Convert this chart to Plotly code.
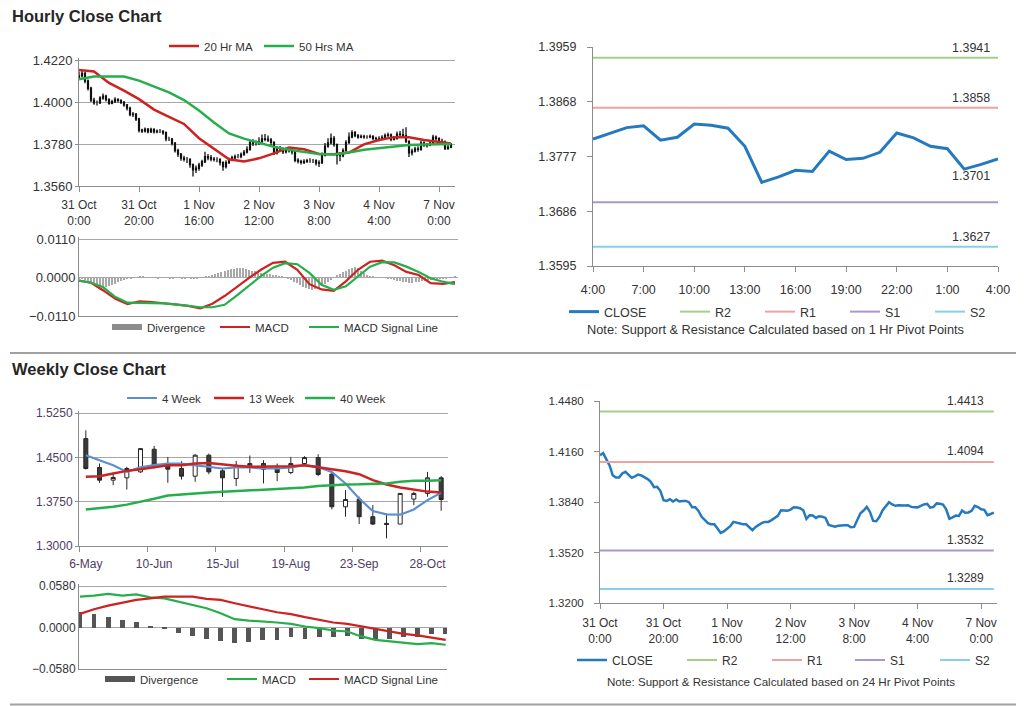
import plotly.graph_objects as go

# The page body keeps the browser's default 8px margin, so the figure is placed at (8, 8)
# and sized to end exactly at the window edge. Positions below are in window pixels.
OX, OY = 8, 8
FW, FH = 1024 - OX, 706 - OY
FONT = "Liberation Sans, Arial, sans-serif"
TXT = "#333333"
WK_TXT = "#4F3B66"
GRID = "#A6A6A6"
AXIS = "#8C8C8C"

# ---------------- Hourly data: 31 Oct 0:00 -> 7 Nov 4:00 (125 bars) ----------------
h_open = [1.4125, 1.4137, 1.4150, 1.4110, 1.4072, 1.4010, 1.3995, 1.3995, 1.4021, 1.4031,
          1.4012, 1.3993, 1.4002, 1.4014, 1.4008, 1.3998, 1.3985, 1.3968, 1.3934, 1.3936,
          1.3911, 1.3852, 1.3847, 1.3858, 1.3843, 1.3856, 1.3843, 1.3847, 1.3847, 1.3839,
          1.3807, 1.3807, 1.3784, 1.3746, 1.3727, 1.3706, 1.3699, 1.3699, 1.3672, 1.3644,
          1.3653, 1.3670, 1.3687, 1.3714, 1.3708, 1.3701, 1.3699, 1.3699, 1.3682, 1.3661,
          1.3682, 1.3697, 1.3708, 1.3714, 1.3714, 1.3725, 1.3737, 1.3752, 1.3788, 1.3784,
          1.3784, 1.3792, 1.3807, 1.3805, 1.3801, 1.3788, 1.3733, 1.3756, 1.3754, 1.3739,
          1.3750, 1.3746, 1.3739, 1.3695, 1.3689, 1.3684, 1.3689, 1.3693, 1.3693, 1.3693,
          1.3680, 1.3682, 1.3722, 1.3769, 1.3786, 1.3809, 1.3777, 1.3720, 1.3718, 1.3746,
          1.3788, 1.3816, 1.3839, 1.3824, 1.3816, 1.3820, 1.3818, 1.3818, 1.3820, 1.3809,
          1.3807, 1.3806, 1.3815, 1.3825, 1.3828, 1.3804, 1.3809, 1.3831, 1.3829, 1.3824,
          1.3794, 1.3734, 1.3743, 1.3754, 1.3752, 1.3786, 1.3772, 1.3774, 1.3784, 1.3816,
          1.3808, 1.3794, 1.3790, 1.3756, 1.3764]
h_high = [1.4160, 1.4165, 1.4158, 1.4118, 1.4080, 1.4022, 1.4008, 1.4030, 1.4045, 1.4038,
          1.4020, 1.4012, 1.4025, 1.4020, 1.4015, 1.4005, 1.3990, 1.3975, 1.3948, 1.3942,
          1.3918, 1.3860, 1.3866, 1.3864, 1.3865, 1.3862, 1.3856, 1.3858, 1.3852, 1.3845,
          1.3818, 1.3812, 1.3790, 1.3755, 1.3733, 1.3718, 1.3712, 1.3705, 1.3678, 1.3668,
          1.3682, 1.3698, 1.3740, 1.3728, 1.3722, 1.3712, 1.3710, 1.3706, 1.3690, 1.3695,
          1.3708, 1.3718, 1.3725, 1.3728, 1.3735, 1.3748, 1.3768, 1.3800, 1.3805, 1.3798,
          1.3815, 1.3830, 1.3832, 1.3825, 1.3812, 1.3795, 1.3768, 1.3770, 1.3762, 1.3760,
          1.3758, 1.3752, 1.3745, 1.3705, 1.3698, 1.3700, 1.3703, 1.3705, 1.3702, 1.3700,
          1.3695, 1.3735, 1.3785, 1.3810, 1.3835, 1.3822, 1.3782, 1.3738, 1.3758, 1.3800,
          1.3840, 1.3852, 1.3848, 1.3832, 1.3830, 1.3828, 1.3826, 1.3830, 1.3826, 1.3818,
          1.3820, 1.3826, 1.3835, 1.3840, 1.3835, 1.3822, 1.3845, 1.3848, 1.3860, 1.3868,
          1.3800, 1.3755, 1.3765, 1.3768, 1.3798, 1.3795, 1.3785, 1.3798, 1.3828, 1.3825,
          1.3815, 1.3808, 1.3798, 1.3775, 1.3785]
h_low = [1.4118, 1.4128, 1.4098, 1.4060, 1.4000, 1.3985, 1.3982, 1.3990, 1.4012, 1.4003,
         1.3985, 1.3988, 1.3995, 1.3998, 1.3990, 1.3975, 1.3955, 1.3925, 1.3922, 1.3900,
         1.3840, 1.3838, 1.3840, 1.3836, 1.3838, 1.3835, 1.3836, 1.3838, 1.3828, 1.3795,
         1.3796, 1.3772, 1.3735, 1.3712, 1.3692, 1.3688, 1.3680, 1.3655, 1.3610, 1.3628,
         1.3640, 1.3660, 1.3680, 1.3695, 1.3690, 1.3688, 1.3685, 1.3668, 1.3640, 1.3652,
         1.3675, 1.3690, 1.3700, 1.3705, 1.3706, 1.3718, 1.3730, 1.3745, 1.3770, 1.3772,
         1.3775, 1.3785, 1.3795, 1.3790, 1.3775, 1.3722, 1.3725, 1.3742, 1.3728, 1.3730,
         1.3735, 1.3725, 1.3685, 1.3678, 1.3672, 1.3675, 1.3680, 1.3682, 1.3680, 1.3668,
         1.3660, 1.3675, 1.3715, 1.3760, 1.3778, 1.3765, 1.3672, 1.3690, 1.3710, 1.3740,
         1.3780, 1.3810, 1.3815, 1.3808, 1.3810, 1.3808, 1.3808, 1.3810, 1.3800, 1.3798,
         1.3795, 1.3800, 1.3808, 1.3815, 1.3795, 1.3798, 1.3802, 1.3818, 1.3815, 1.3785,
         1.3712, 1.3720, 1.3735, 1.3740, 1.3745, 1.3765, 1.3762, 1.3768, 1.3778, 1.3798,
         1.3785, 1.3780, 1.3748, 1.3750, 1.3758]
h_close = [1.4137, 1.4150, 1.4110, 1.4072, 1.4010, 1.3995, 1.3995, 1.4021, 1.4031, 1.4012,
           1.3993, 1.4002, 1.4014, 1.4008, 1.3998, 1.3985, 1.3968, 1.3934, 1.3936, 1.3911,
           1.3852, 1.3847, 1.3858, 1.3843, 1.3856, 1.3843, 1.3847, 1.3847, 1.3839, 1.3807,
           1.3807, 1.3784, 1.3746, 1.3727, 1.3706, 1.3699, 1.3699, 1.3672, 1.3644, 1.3653,
           1.3670, 1.3687, 1.3714, 1.3708, 1.3701, 1.3699, 1.3699, 1.3682, 1.3661, 1.3682,
           1.3697, 1.3708, 1.3714, 1.3714, 1.3725, 1.3737, 1.3752, 1.3788, 1.3784, 1.3784,
           1.3792, 1.3807, 1.3805, 1.3801, 1.3788, 1.3733, 1.3756, 1.3754, 1.3739, 1.3750,
           1.3746, 1.3739, 1.3695, 1.3689, 1.3684, 1.3689, 1.3693, 1.3693, 1.3693, 1.3680,
           1.3682, 1.3722, 1.3769, 1.3786, 1.3809, 1.3777, 1.3720, 1.3718, 1.3746, 1.3788,
           1.3816, 1.3839, 1.3824, 1.3816, 1.3820, 1.3818, 1.3818, 1.3820, 1.3809, 1.3807,
           1.3806, 1.3815, 1.3825, 1.3828, 1.3804, 1.3809, 1.3831, 1.3829, 1.3824, 1.3794,
           1.3734, 1.3743, 1.3754, 1.3752, 1.3786, 1.3772, 1.3774, 1.3784, 1.3816, 1.3808,
           1.3794, 1.3790, 1.3756, 1.3764, 1.3773]
h_tick_idx = [0, 20, 40, 60, 80, 100, 120]
h_tick_text = ["31 Oct<br>0:00", "31 Oct<br>20:00", "1 Nov<br>16:00", "2 Nov<br>12:00",
               "3 Nov<br>8:00", "4 Nov<br>4:00", "7 Nov<br>0:00"]
h_yticks = [1.3560, 1.3780, 1.4000, 1.4220]

ma_idx = [0, 5, 10, 15, 20, 25, 30, 35, 40, 45, 50, 55, 60, 65, 70, 75, 80, 85, 90, 95,
          100, 105, 110, 115, 120, 124]
ma20 = [1.4168, 1.4160, 1.4100, 1.4060, 1.4015, 1.3960, 1.3922, 1.3885, 1.3810, 1.3755,
        1.3700, 1.3688, 1.3705, 1.3731, 1.3762, 1.3752, 1.3728, 1.3726, 1.3735, 1.3778,
        1.3801, 1.3816, 1.3815, 1.3801, 1.3792, 1.3783]
ma50 = [1.4119, 1.4133, 1.4133, 1.4133, 1.4112, 1.4083, 1.4050, 1.4010, 1.3955, 1.3893,
        1.3835, 1.3808, 1.3788, 1.3765, 1.3750, 1.3738, 1.3727, 1.3725, 1.3735, 1.3750,
        1.3758, 1.3766, 1.3775, 1.3778, 1.3778, 1.3780]

macd_idx = [0, 4, 8, 12, 16, 20, 24, 28, 32, 36, 40, 44, 48, 52, 56, 60, 64, 68, 72, 76,
            80, 84, 88, 92, 96, 100, 104, 108, 112, 116, 120, 124]
h_macd = [-0.0009, -0.0015, -0.0037, -0.0061, -0.0076, -0.0068, -0.0070, -0.0074, -0.0078,
          -0.0081, -0.0088, -0.0075, -0.0053, -0.0027, -0.0002, 0.0022, 0.0042, 0.0045,
          0.0022, -0.0019, -0.0034, -0.0038, -0.0011, 0.0022, 0.0045, 0.0048, 0.0035,
          0.0016, 0.0007, -0.0016, -0.0018, -0.0013]
h_signal = [-0.0009, -0.0015, -0.0028, -0.0056, -0.0072, -0.0072, -0.0073, -0.0074, -0.0077,
            -0.0080, -0.0085, -0.0085, -0.0078, -0.0052, -0.0023, 0.0004, 0.0028, 0.0041,
            0.0038, 0.0013, -0.0021, -0.0035, -0.0025, 0.0003, 0.0031, 0.0044, 0.0043,
            0.0031, 0.0016, -0.0002, -0.0012, -0.0019]
h_div = [-0.0002, -0.0004, -0.0006, -0.0010,
         -0.0014, -0.0018, -0.0021, -0.0024, -0.0025, -0.0026, -0.0025, -0.0022, -0.0018,
         -0.0014, -0.0010, -0.0007, -0.0004, -0.0002, -0.0001,
         0.0001, 0.0002, 0.0002, 0.0001, 0.0000, -0.0001, -0.0001, -0.0002, -0.0001, 0.0000,
         -0.0001, -0.0002, -0.0002, -0.0001, -0.0001, -0.0002, -0.0002, -0.0001, -0.0002,
         -0.0003, -0.0002, -0.0001, 0.0000, 0.0002, 0.0005,
         0.0008, 0.0011, 0.0014, 0.0017, 0.0019, 0.0021, 0.0023, 0.0025, 0.0026, 0.0027,
         0.0026, 0.0024, 0.0022, 0.0020, 0.0018, 0.0016, 0.0014, 0.0012, 0.0011, 0.0009,
         0.0008, 0.0006, 0.0004, 0.0002, 0.0000,
         -0.0004, -0.0008, -0.0012, -0.0017, -0.0022, -0.0027, -0.0031, -0.0034, -0.0035,
         -0.0033, -0.0029, -0.0024, -0.0018, -0.0012, -0.0006, 0.0000,
         0.0006, 0.0011, 0.0016, 0.0020, 0.0024, 0.0027, 0.0029, 0.0026, 0.0020, 0.0013,
         0.0007, 0.0003,
         0.0002, 0.0001, 0.0001, 0.0000, -0.0001, -0.0002, -0.0004, -0.0006,
         -0.0009, -0.0011, -0.0013, -0.0014, -0.0015, -0.0015, -0.0014, -0.0013, -0.0011,
         -0.0010, -0.0008, -0.0007,
         -0.0006, -0.0005, -0.0004, -0.0003, -0.0002, -0.0001, 0.0001, 0.0003]
h_macd_yticks = [-0.0110, 0.0000, 0.0110]

# ---------------- 1 Hr pivot panel (last 25 hours) ----------------
p1_tick_idx = [0, 3, 6, 9, 12, 15, 18, 21, 24]
p1_tick_text = ["4:00", "7:00", "10:00", "13:00", "16:00", "19:00", "22:00", "1:00", "4:00"]
p1_yticks = [1.3595, 1.3686, 1.3777, 1.3868, 1.3959]
p1_names = ["R2", "R1", "S1", "S2"]
p1_levels = [1.3941, 1.3858, 1.3701, 1.3627]
p1_label_shift = [1, 1, 17, 1]

# ---------------- 24 Hr pivot panel ----------------
p24_yticks = [1.3200, 1.3520, 1.3840, 1.4160, 1.4480]
p24_levels = [1.4413, 1.4094, 1.3532, 1.3289]
level_colors = ["#A6CE88", "#EBA4A4", "#A898CC", "#88D0E8"]

# ---------------- Weekly data (6 May -> 4 Nov) ----------------
weeks = ["6-May", "13-May", "20-May", "27-May", "3-Jun", "10-Jun", "17-Jun", "24-Jun",
         "1-Jul", "8-Jul", "15-Jul", "22-Jul", "29-Jul", "5-Aug", "12-Aug", "19-Aug",
         "26-Aug", "2-Sep", "9-Sep", "16-Sep", "23-Sep", "30-Sep", "7-Oct", "14-Oct",
         "21-Oct", "28-Oct", "4-Nov"]
w_open = [1.4817, 1.4328, 1.4114, 1.4153, 1.4254, 1.4637, 1.4367, 1.4311, 1.4181, 1.4536,
          1.4271, 1.4142, 1.4356, 1.4395, 1.4311, 1.4243, 1.4395, 1.4496, 1.4215, 1.3664,
          1.3793, 1.3495, 1.3382, 1.3371, 1.3793, 1.3889, 1.4153]
w_high = [1.4957, 1.4395, 1.4237, 1.4339, 1.4648, 1.4693, 1.4507, 1.4434, 1.4552, 1.4564,
          1.4311, 1.4440, 1.4530, 1.4451, 1.4395, 1.4507, 1.4519, 1.4552, 1.4237, 1.3945,
          1.3833, 1.3692, 1.3551, 1.3889, 1.3917, 1.4254, 1.4181]
w_low = [1.4294, 1.4069, 1.4029, 1.3956, 1.4237, 1.4311, 1.4069, 1.4125, 1.4086, 1.4215,
         1.3832, 1.4013, 1.4237, 1.4058, 1.4097, 1.4215, 1.4378, 1.4181, 1.3619, 1.3495,
         1.3371, 1.3354, 1.3129, 1.3371, 1.3692, 1.3833, 1.3596]
w_close = [1.4311, 1.4114, 1.4159, 1.4311, 1.4648, 1.4339, 1.4299, 1.4181, 1.4536, 1.4254,
           1.4153, 1.4367, 1.4395, 1.4299, 1.4243, 1.4395, 1.4496, 1.4210, 1.3664, 1.3787,
           1.3495, 1.3371, 1.3365, 1.3889, 1.3889, 1.4153, 1.3787]
w_ma4 = [1.4536, 1.4451, 1.4367, 1.4254, 1.4330, 1.4367, 1.4395, 1.4395, 1.4367, 1.4350,
         1.4311, 1.4328, 1.4328, 1.4311, 1.4311, 1.4328, 1.4367, 1.4339, 1.4254, 1.4058,
         1.3804, 1.3590, 1.3535, 1.3530, 1.3619, 1.3776, 1.3900]
w_ma13 = [1.4170, 1.4181, 1.4226, 1.4271, 1.4299, 1.4339, 1.4367, 1.4367, 1.4395, 1.4406,
          1.4378, 1.4356, 1.4339, 1.4339, 1.4339, 1.4350, 1.4367, 1.4339, 1.4299, 1.4266,
          1.4215, 1.4114, 1.4040, 1.3990, 1.3950, 1.3920, 1.3905]
w_ma40 = [1.3619, 1.3636, 1.3664, 1.3700, 1.3745, 1.3800, 1.3855, 1.3878, 1.3890, 1.3905,
          1.3917, 1.3925, 1.3935, 1.3945, 1.3956, 1.3973, 1.3990, 1.4013, 1.4029, 1.4041,
          1.4043, 1.4046, 1.4058, 1.4086, 1.4103, 1.4105, 1.4114]
w_yticks = [1.3000, 1.3750, 1.4500, 1.5250]
w_macd = [0.0432, 0.0445, 0.0469, 0.0445, 0.0464, 0.0422, 0.0408, 0.0362, 0.0325, 0.0269,
          0.0200, 0.0116, 0.0097, 0.0088, 0.0070, 0.0051, 0.0014, -0.0009, -0.0042, -0.0056,
          -0.0125, -0.0172, -0.0195, -0.0218, -0.0232, -0.0218, -0.0241]
w_signal = [0.0190, 0.0255, 0.0306, 0.0348, 0.0385, 0.0408, 0.0432, 0.0432, 0.0432, 0.0399,
            0.0385, 0.0339, 0.0302, 0.0255, 0.0213, 0.0186, 0.0144, 0.0107, 0.0070, 0.0051,
            0.0014, -0.0019, -0.0056, -0.0088, -0.0111, -0.0139, -0.0172]
w_div = [0.0223, 0.0190, 0.0144, 0.0102, 0.0070, 0.0023, -0.0019, -0.0070, -0.0116, -0.0162,
         -0.0195, -0.0218, -0.0204, -0.0181, -0.0172, -0.0135, -0.0158, -0.0135, -0.0135,
         -0.0116, -0.0162, -0.0172, -0.0162, -0.0139, -0.0135, -0.0088, -0.0088]
w_macd_yticks = [-0.0580, 0.0000, 0.0580]


# ---------------- helpers (window pixels -> paper fractions) ----------------
def fx(px):
    return (px - OX) / FW


def fy(py):
    return 1 - (py - OY) / FH


def dom_x(a, b):
    return [fx(a), fx(b)]


def yaxis_span(lo, hi, top_px, bottom_px, pad=2):
    """domain + range so that `hi` sits at top_px and `lo` at bottom_px (pad px spare on top)."""
    per_px = (hi - lo) / (bottom_px - top_px)
    return [fy(bottom_px), fy(top_px - pad)], [lo, hi + pad * per_px]


legends = {}


def legend_slot(x_px, y_px, size):
    n = len(legends) + 1
    key = "legend" if n == 1 else "legend%d" % n
    legends[key] = dict(x=fx(x_px - 8), y=fy(y_px), xanchor="left", yanchor="middle",
                        orientation="h", bgcolor="rgba(0,0,0,0)", borderwidth=0,
                        font=dict(family=FONT, size=size, color=TXT), itemwidth=30)
    return key


fig = go.Figure()
hx = list(range(len(h_close)))
wx = list(range(len(weeks)))
px1 = list(range(len(h_close) - 25, len(h_close)))
p1x = [i - px1[0] for i in px1]
p1_close = [h_close[i] for i in px1]

RED = "#CC2222"
GREEN = "#27AE4C"
BLUE_MA = "#5B8FD0"
CLOSE_BLUE = "#2479BF"

# ---- Panel A: hourly candles + MAs ----
fig.add_trace(go.Candlestick(
    x=hx, open=h_open, high=h_high, low=h_low, close=h_close, xaxis="x", yaxis="y",
    showlegend=False, whiskerwidth=0,
    increasing=dict(line=dict(color="#111111", width=1.3), fillcolor="#FFFFFF"),
    decreasing=dict(line=dict(color="#111111", width=1.3), fillcolor="#111111")))
fig.add_trace(go.Scatter(x=ma_idx, y=ma20, mode="lines", name="20 Hr MA",
                         line=dict(color=RED, width=2.5), xaxis="x", yaxis="y",
                         legend=legend_slot(172, 46, 11.5)))
fig.add_trace(go.Scatter(x=ma_idx, y=ma50, mode="lines", name="50 Hrs MA",
                         line=dict(color=GREEN, width=2.5), xaxis="x", yaxis="y",
                         legend=legend_slot(267, 46, 11.5)))

# ---- Panel B: hourly MACD ----
fig.add_trace(go.Bar(x=hx, y=h_div, marker=dict(color="#A8A8A8", line=dict(width=0)),
                     width=0.35, xaxis="x2", yaxis="y2", showlegend=False))
fig.add_trace(go.Scatter(x=[None], y=[None], mode="lines", name="Divergence",
                         line=dict(color="#8C8C8C", width=6), xaxis="x2", yaxis="y2",
                         legend=legend_slot(115, 327, 11.5)))
fig.add_trace(go.Scatter(x=macd_idx, y=h_macd, mode="lines", name="MACD",
                         line=dict(color=RED, width=2.2), xaxis="x2", yaxis="y2",
                         legend=legend_slot(223, 327, 11.5)))
fig.add_trace(go.Scatter(x=macd_idx, y=h_signal, mode="lines", name="MACD Signal Line",
                         line=dict(color=GREEN, width=2.2), xaxis="x2", yaxis="y2",
                         legend=legend_slot(312, 327, 11.5)))

# ---- Panel C: 1 Hr pivot ----
fig.add_trace(go.Scatter(x=p1x, y=p1_close, mode="lines", name="CLOSE",
                         line=dict(color=CLOSE_BLUE, width=3), xaxis="x3", yaxis="y3",
                         legend=legend_slot(572, 312, 12.5)))
p1_leg_x = [683, 768, 853, 938]
for nm, lv, col, lx in zip(p1_names, p1_levels, level_colors, p1_leg_x):
    fig.add_trace(go.Scatter(x=p1x, y=[lv] * len(p1x), mode="lines", name=nm,
                             line=dict(color=col, width=2), xaxis="x3", yaxis="y3",
                             legend=legend_slot(lx, 312, 12.5)))

# ---- Panel D: weekly candles + MAs ----
fig.add_trace(go.Candlestick(
    x=wx, open=w_open, high=w_high, low=w_low, close=w_close, xaxis="x4", yaxis="y4",
    showlegend=False, whiskerwidth=0,
    increasing=dict(line=dict(color="#262626", width=1), fillcolor="#FFFFFF"),
    decreasing=dict(line=dict(color="#262626", width=1), fillcolor="#3A3A3A")))
fig.add_trace(go.Scatter(x=wx, y=w_ma4, mode="lines", name="4 Week",
                         line=dict(color=BLUE_MA, width=2.2), xaxis="x4", yaxis="y4",
                         legend=legend_slot(130, 398, 11.5)))
fig.add_trace(go.Scatter(x=wx, y=w_ma13, mode="lines", name="13 Week",
                         line=dict(color=RED, width=2.5), xaxis="x4", yaxis="y4",
                         legend=legend_slot(217, 398, 11.5)))
fig.add_trace(go.Scatter(x=wx, y=w_ma40, mode="lines", name="40 Week",
                         line=dict(color=GREEN, width=2.5), xaxis="x4", yaxis="y4",
                         legend=legend_slot(308, 398, 11.5)))

# ---- Panel E: weekly MACD ----
fig.add_trace(go.Bar(x=wx, y=w_div, marker=dict(color="#555555", line=dict(width=0)),
                     width=0.34, xaxis="x5", yaxis="y5", showlegend=False))
fig.add_trace(go.Scatter(x=[None], y=[None], mode="lines", name="Divergence",
                         line=dict(color="#555555", width=6), xaxis="x5", yaxis="y5",
                         legend=legend_slot(108, 679, 11.5)))
fig.add_trace(go.Scatter(x=wx, y=w_macd, mode="lines", name="MACD",
                         line=dict(color=GREEN, width=2.2), xaxis="x5", yaxis="y5",
                         legend=legend_slot(230, 679, 11.5)))
fig.add_trace(go.Scatter(x=wx, y=w_signal, mode="lines", name="MACD Signal Line",
                         line=dict(color=RED, width=2.2), xaxis="x5", yaxis="y5",
                         legend=legend_slot(312, 679, 11.5)))

# ---- Panel F: 24 Hr pivot ----
fig.add_trace(go.Scatter(x=hx, y=h_close, mode="lines", name="CLOSE",
                         line=dict(color=CLOSE_BLUE, width=2.5), xaxis="x6", yaxis="y6",
                         legend=legend_slot(580, 660, 12)))
p24_leg_x = [690, 775, 858, 943]
for nm, lv, col, lx in zip(p1_names, p24_levels, level_colors, p24_leg_x):
    fig.add_trace(go.Scatter(x=hx, y=[lv] * len(hx), mode="lines", name=nm,
                             line=dict(color=col, width=2), xaxis="x6", yaxis="y6",
                             legend=legend_slot(lx, 660, 12)))


# ---------------- axes ----------------
def tf(size, color=TXT):
    return dict(family=FONT, size=size, color=color)


base_x = dict(showgrid=False, zeroline=False, showline=True, linecolor=AXIS, linewidth=1,
              fixedrange=True, tickcolor=AXIS, automargin=False)
base_y = dict(zeroline=False, showline=True, linecolor=AXIS, linewidth=1, fixedrange=True,
              tickcolor=AXIS, tickformat=".4f", tickmode="array", automargin=False)

dA, rA = yaxis_span(h_yticks[0], h_yticks[-1], 60, 186)
dB, rB = yaxis_span(h_macd_yticks[0], h_macd_yticks[-1], 239, 316)
dD, rD = yaxis_span(w_yticks[0], w_yticks[-1], 413, 546)
dE, rE = yaxis_span(w_macd_yticks[0], w_macd_yticks[-1], 586, 669)
dC, rC = yaxis_span(p1_yticks[0], p1_yticks[-1], 47, 266, pad=0)
dF, rF = yaxis_span(p24_yticks[0], p24_yticks[-1], 401, 603, pad=0)

layout_axes = dict(
    xaxis=dict(base_x, domain=dom_x(79, 455), anchor="y", range=[0, 125.33],
               tickmode="array", tickvals=h_tick_idx, ticktext=h_tick_text,
               ticks="outside", ticklen=5, tickfont=tf(12), ticklabelstandoff=3,
               rangeslider=dict(visible=False)),
    yaxis=dict(base_y, domain=dA, range=rA, anchor="x", tickvals=h_yticks, showgrid=True,
               gridcolor=GRID, ticks="outside", ticklen=3, tickfont=tf(13)),
    xaxis2=dict(base_x, domain=dom_x(79, 458), anchor="y2", range=[0, 125],
                showticklabels=False, ticks=""),
    yaxis2=dict(base_y, domain=dB, range=rB, anchor="x2", tickvals=h_macd_yticks,
                showgrid=True, gridcolor=GRID, ticks="", tickfont=tf(13)),
    xaxis3=dict(base_x, domain=dom_x(593, 998), anchor="y3", range=[0, 24],
                tickmode="array", tickvals=p1_tick_idx, ticktext=p1_tick_text,
                ticks="outside", ticklen=5, tickfont=tf(12.5), ticklabelstandoff=7),
    yaxis3=dict(base_y, domain=dC, range=rC, anchor="x3", tickvals=p1_yticks,
                showgrid=False, ticks="outside", ticklen=5, tickfont=tf(12.5),
                ticklabelstandoff=8),
    xaxis4=dict(base_x, domain=dom_x(79, 448), anchor="y4", range=[-0.5, len(weeks) - 0.5],
                tickmode="array", tickvals=wx[::5], ticktext=weeks[::5], ticks="",
                tickfont=tf(12, WK_TXT), ticklabelstandoff=7,
                minor=dict(tickmode="array", tickvals=[v - 0.5 for v in wx[::5]],
                           ticks="outside", ticklen=5, tickcolor=AXIS, showgrid=False),
                rangeslider=dict(visible=False)),
    yaxis4=dict(base_y, domain=dD, range=rD, anchor="x4", tickvals=w_yticks, showgrid=True,
                gridcolor=GRID, ticks="outside", ticklen=3, tickfont=tf(12, WK_TXT)),
    xaxis5=dict(base_x, domain=dom_x(79, 447), anchor="y5", range=[-0.07, 26.09],
                showticklabels=False, ticks=""),
    yaxis5=dict(base_y, domain=dE, range=rE, anchor="x5", tickvals=w_macd_yticks,
                showgrid=True, gridcolor=GRID, ticks="", tickfont=tf(12)),
    xaxis6=dict(base_x, domain=dom_x(600, 997), anchor="y6", range=[0, 125],
                tickmode="array", tickvals=h_tick_idx, ticktext=h_tick_text,
                ticks="outside", ticklen=5, tickfont=tf(12), ticklabelstandoff=4),
    yaxis6=dict(base_y, domain=dF, range=rF, anchor="x6", tickvals=p24_yticks,
                showgrid=False, ticks="outside", ticklen=5, tickfont=tf(11.5),
                ticklabelstandoff=8),
)

# ---------------- annotations ----------------
ann = [
    dict(text="<b>Hourly Close Chart</b>", x=fx(10), y=fy(16), xref="paper", yref="paper",
         xanchor="left", yanchor="middle", showarrow=False, font=tf(16.5, "#262626")),
    dict(text="<b>Weekly Close Chart</b>", x=fx(10), y=fy(369), xref="paper",
         yref="paper", xanchor="left", yanchor="middle", showarrow=False,
         font=tf(16.5, "#262626")),
    dict(text="Note: Support & Resistance Calculated based on 1 Hr Pivot Points",
         x=fx(775), y=fy(329), xref="paper", yref="paper", xanchor="center",
         yanchor="middle", showarrow=False, font=tf(12.8)),
    dict(text="Note: Support & Resistance Calculated based on 24 Hr Pivot Points",
         x=fx(781), y=fy(681), xref="paper", yref="paper", xanchor="center",
         yanchor="middle", showarrow=False, font=tf(11.6)),
]
for lv, sh in zip(p1_levels, p1_label_shift):
    ann.append(dict(text="%.4f" % lv, x=0.984, y=lv, xref="x3 domain", yref="y3",
                    xanchor="right", yanchor="bottom", yshift=sh, showarrow=False,
                    font=tf(12.5)))
for lv in p24_levels:
    ann.append(dict(text="%.4f" % lv, x=0.972, y=lv, xref="x6 domain", yref="y6",
                    xanchor="right", yanchor="bottom", yshift=2, showarrow=False,
                    font=tf(12)))

shapes = [
    dict(type="line", xref="paper", yref="paper", x0=fx(10), x1=1, y0=fy(353), y1=fy(353),
         line=dict(color="#A0A0A0", width=2)),
    dict(type="line", xref="paper", yref="paper", x0=fx(10), x1=1, y0=fy(704.5),
         y1=fy(704.5), line=dict(color="#A0A0A0", width=2)),
]

fig.update_layout(
    width=FW, height=FH, margin=dict(l=0, r=0, t=0, b=0, pad=0, autoexpand=False),
    autosize=False, paper_bgcolor="white", plot_bgcolor="white",
    font=dict(family=FONT, color=TXT), boxgap=0.58, bargap=0, annotations=ann,
    shapes=shapes, hovermode=False, **layout_axes, **legends)

fig.write_html("out.html", config={"displayModeBar": False})
